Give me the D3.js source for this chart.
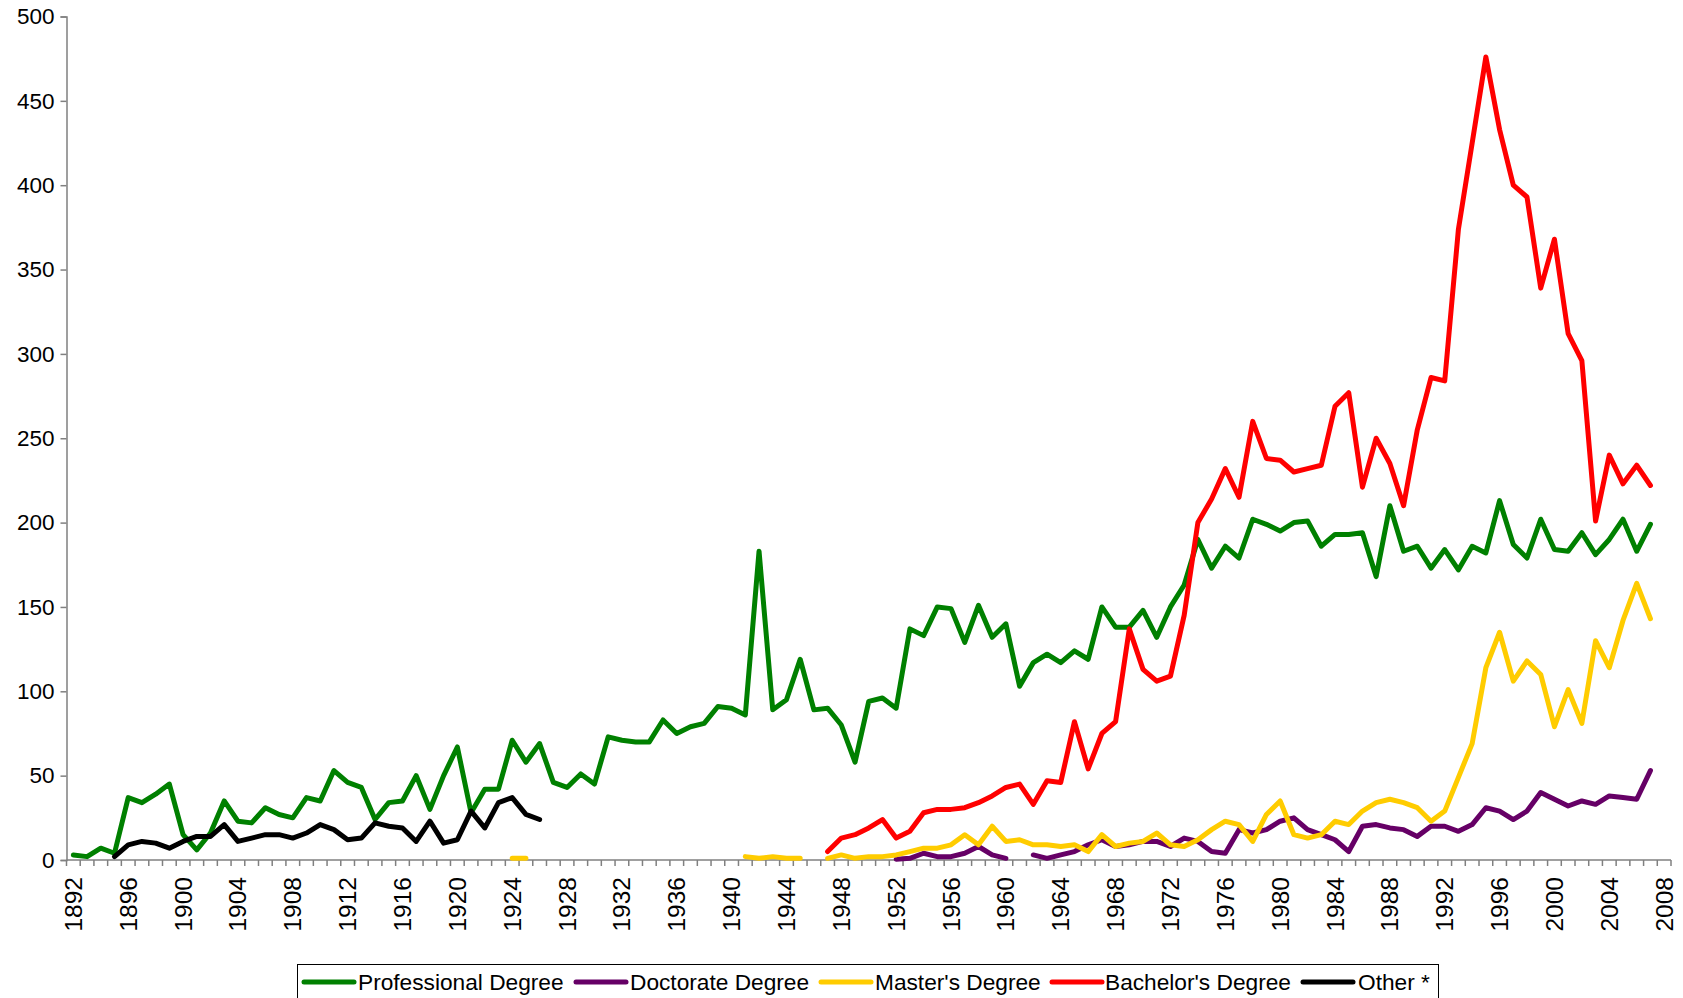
<!DOCTYPE html>
<html>
<head>
<meta charset="utf-8">
<script src="https://cdn.jsdelivr.net/npm/d3@7"></script>
<style>
  body { margin: 0; background: #fff; }
  text { font-family: "Liberation Sans", Arial, sans-serif; fill: #000; }
</style>
</head>
<body>
<script>
// categories on the x axis (one per year, last one has no data)
var years = d3.range(1892, 2009)

// series values, one per year starting 1892 (null = no value)
var professional = [3, 2, 7, 4, 37, 34, 39, 45, 15, 6, 16, 35, 23, 22, 31, 27, 25, 37, 35, 53,
  46, 43, 24, 34, 35, 50, 30, 50, 67, 28, 42, 42, 71, 58, 69, 46, 43, 51, 45, 73,
  71, 70, 70, 83, 75, 79, 81, 91, 90, 86, 183, 89, 95, 119, 89, 90, 80, 58, 94, 96,
  90, 137, 133, 150, 149, 129, 151, 132, 140, 103, 117, 122, 117, 124, 119, 150, 138, 138, 148, 132,
  150, 163, 190, 173, 186, 179, 202, 199, 195, 200, 201, 186, 193, 193, 194, 168, 210, 183, 186, 173,
  184, 172, 186, 182, 213, 187, 179, 202, 184, 183, 194, 181, 190, 202, 183, 199]

var doctorate = [null, null, null, null, null, null, null, null, null, null, null, null, null, null, null, null, null, null, null, null,
  null, null, null, null, null, null, null, null, null, null, null, null, null, null, null, null, null, null, null, null,
  null, null, null, null, null, null, null, null, null, null, null, null, null, null, null, null, null, null, null, null,
  0.5, 1, 4, 2, 2, 4, 8, 3, 1, null, 3, 1, 3, 5, 9, 12, 8, 9, 11, 11,
  8, 13, 11, 5, 4, 18, 16, 18, 23, 25, 18, 15, 12, 5, 20, 21, 19, 18, 14, 20,
  20, 17, 21, 31, 29, 24, 29, 40, 36, 32, 35, 33, 38, 37, 36, 53]

var masters = [null, null, null, null, null, null, null, null, null, null, null, null, null, null, null, null, null, null, null, null,
  null, null, null, null, null, null, null, null, null, null, null, null, 1, 1, null, null, null, null, null, null,
  null, null, null, null, null, null, null, null, null, 2, 1, 2, 1, 1, null, 1, 3, 1, 2, 2,
  3, 5, 7, 7, 9, 15, 9, 20, 11, 12, 9, 9, 8, 9, 5, 15, 8, 10, 11, 16,
  9, 8, 12, 18, 23, 21, 11, 27, 35, 15, 13, 15, 23, 21, 29, 34, 36, 34, 31, 23,
  29, 49, 69, 114, 135, 106, 118, 110, 79, 101, 81, 130, 114, 142, 164, 143]

var bachelors = [null, null, null, null, null, null, null, null, null, null, null, null, null, null, null, null, null, null, null, null,
  null, null, null, null, null, null, null, null, null, null, null, null, null, null, null, null, null, null, null, null,
  null, null, null, null, null, null, null, null, null, null, null, null, null, null, null, 5, 13, 15, 19, 24,
  13, 17, 28, 30, 30, 31, 34, 38, 43, 45, 33, 47, 46, 82, 54, 75, 82, 137, 113, 106,
  109, 145, 200, 214, 232, 215, 260, 238, 237, 230, 232, 234, 269, 277, 221, 250, 235, 210, 255, 286,
  284, 374, 425, 476, 433, 400, 393, 339, 368, 312, 296, 201, 240, 223, 234, 222]

var other = [null, null, null, 2, 9, 11, 10, 7, 11, 14, 14, 21, 11, 13, 15, 15, 13, 16, 21, 18,
  12, 13, 22, 20, 19, 11, 23, 10, 12, 29, 19, 34, 37, 27, 24]

var seriesNames = ["Professional Degree", "Doctorate Degree", "Master's Degree", "Bachelor's Degree", "Other *"]
var seriesValues = [professional, doctorate, masters, bachelors, other]
var seriesColors = ["#008000", "#660066", "#FFCC00", "#FF0000", "#000000"]

var yTicks = d3.range(0, 501, 50)
var xLabels = years.filter(function(d){ return (d - 1892) % 4 === 0 })

var width = 1683, height = 998
var plot = {left: 66.5, right: 1671, top: 16.5, bottom: 860}

var svg = d3.select("body")
  .append("svg")
  .attr("width", width)
  .attr("height", height)

var x = d3.scaleBand()
  .domain(years)
  .range([plot.left, plot.right])
  .padding(0)

var y = d3.scaleLinear()
  .domain([0, 500])
  .range([plot.bottom, plot.top])

function cx(yr) { return x(yr) + x.bandwidth() / 2 }

// y axis
var yAxis = svg.append("g")
  .attr("transform", "translate(" + plot.left + ",0)")
  .call(d3.axisLeft(y).tickValues(yTicks).tickSize(6).tickPadding(6).tickFormat(d3.format("d")))
yAxis.select(".domain").attr("stroke", "#808080").attr("stroke-width", 1.5)
yAxis.selectAll(".tick line").attr("stroke", "#808080").attr("stroke-width", 1.5)
yAxis.selectAll(".tick text")
  .style("font-size", "22.5px")
  .style("font-family", "'Liberation Sans', Arial, sans-serif")
  .attr("fill", "#000")

// x axis: line, tick marks on category boundaries, labels every 4 years
var xAxis = svg.append("g")
xAxis.append("line")
  .attr("x1", plot.left).attr("x2", plot.right)
  .attr("y1", y(0)).attr("y2", y(0))
  .attr("stroke", "#808080").attr("stroke-width", 1.5)

xAxis.selectAll("tickmarks")
  .data(years.concat([null]))
  .enter()
  .append("line")
    .attr("x1", function(d){ return d === null ? plot.right : x(d) })
    .attr("x2", function(d){ return d === null ? plot.right : x(d) })
    .attr("y1", y(0))
    .attr("y2", y(0) + 6)
    .attr("stroke", "#808080")
    .attr("stroke-width", 1.5)

xAxis.selectAll("xlabels")
  .data(xLabels)
  .enter()
  .append("text")
    .text(function(d){ return d })
    .attr("text-anchor", "end")
    .attr("dominant-baseline", "central")
    .attr("transform", function(d){ return "translate(" + cx(d) + "," + (y(0) + 17) + ")rotate(-90)" })
    .style("font-size", "24.5px")

// the lines
var line = d3.line()
  .defined(function(d){ return d.v !== null && d.v !== undefined })
  .x(function(d){ return cx(d.year) })
  .y(function(d){ return y(d.v) })

seriesValues.forEach(function(vals, i) {
  var pts = vals.map(function(v, j){ return {year: years[j], v: v} })
  svg.append("path")
    .datum(pts)
    .attr("d", line)
    .attr("fill", "none")
    .attr("stroke", seriesColors[i])
    .attr("stroke-width", 5)
    .attr("stroke-linejoin", "round")
    .attr("stroke-linecap", "round")
})

// legend
var legendItems = [
  {x: 304, tx: 358},
  {x: 576, tx: 630},
  {x: 821, tx: 875},
  {x: 1052, tx: 1105},
  {x: 1303, tx: 1358}
]
var legend = svg.append("g")
legend.append("rect")
  .attr("x", 297.5).attr("y", 964.5)
  .attr("width", 1141).attr("height", 60)
  .attr("fill", "#fff")
  .attr("stroke", "#000")
  .attr("stroke-width", 1)

legendItems.forEach(function(it, i) {
  legend.append("line")
    .attr("x1", it.x).attr("x2", it.x + 50)
    .attr("y1", 982).attr("y2", 982)
    .attr("stroke", seriesColors[i])
    .attr("stroke-width", 5)
    .attr("stroke-linecap", "round")
  legend.append("text")
    .attr("x", it.tx)
    .attr("y", 982)
    .attr("dominant-baseline", "central")
    .style("font-size", "22.7px")
    .text(seriesNames[i])
})
</script>
</body>
</html>
